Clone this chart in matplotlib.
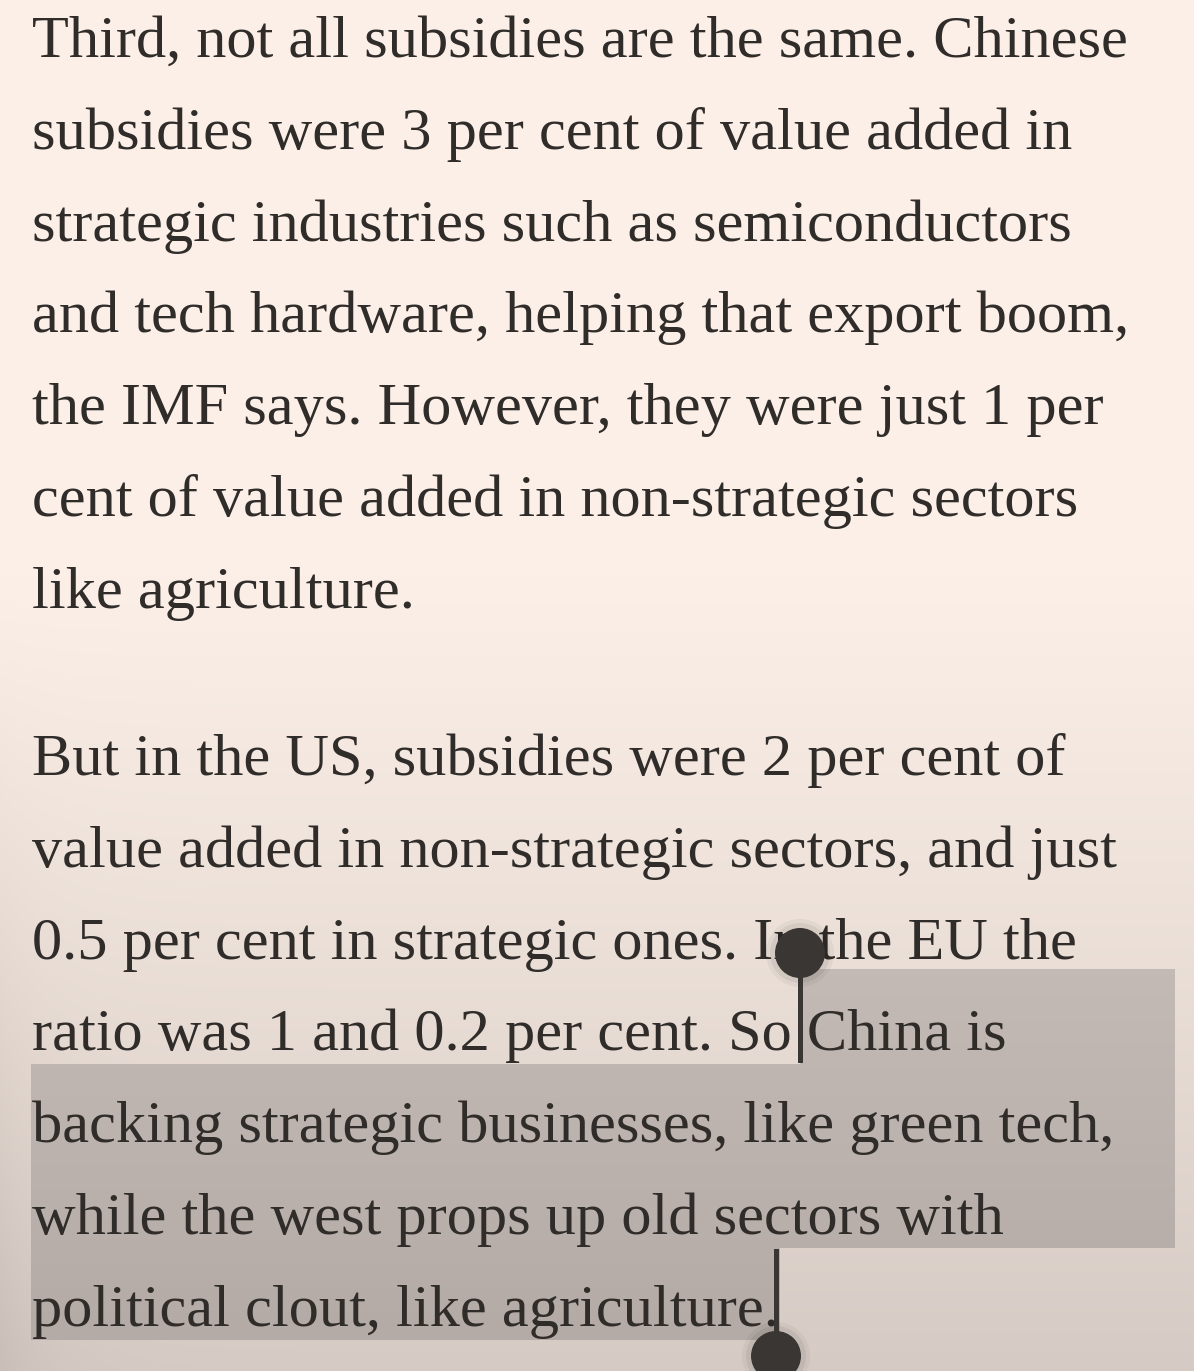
import numpy as np
import matplotlib.pyplot as plt
from matplotlib.patches import Circle, Polygon, Rectangle

W, H = 1194, 1371

para1 = [
    "Third, not all subsidies are the same. Chinese",
    "subsidies were 3 per cent of value added in",
    "strategic industries such as semiconductors",
    "and tech hardware, helping that export boom,",
    "the IMF says. However, they were just 1 per",
    "cent of value added in non-strategic sectors",
    "like agriculture.",
]
para2 = [
    "But in the US, subsidies were 2 per cent of",
    "value added in non-strategic sectors, and just",
    "0.5 per cent in strategic ones. In the EU the",
    "ratio was 1 and 0.2 per cent. So China is",
    "backing strategic businesses, like green tech,",
    "while the west props up old sectors with",
    "political clout, like agriculture.",
]

ink = "#302c2a"
handle = "#3a3634"
serif = ["Liberation Serif", "DejaVu Serif"]

fig = plt.figure(figsize=(W / 100, H / 100), dpi=100)
ax = fig.add_axes([0, 0, 1, 1])

# page background: peach at top, greyer towards the bottom
yy = np.linspace(0, 1, H)[:, None, None]
xx = np.linspace(0, 1, W)[None, :, None]
top = np.array([251, 239, 231]) / 255
bot = np.array([214, 203, 196]) / 255
t = np.clip((yy - 0.42) / 0.58, 0, 1) ** 1.1
bg = top * (1 - t) + bot * t
bg = bg - 0.05 * t * np.exp(-xx / 0.04)
bg = np.clip(np.broadcast_to(bg, (H, W, 3)), 0, 1)
ax.imshow(bg, extent=(0, W, H, 0), aspect="auto", zorder=0)

# selection highlight
sel = Polygon([(800, 969), (1175, 969), (1175, 1248), (780, 1248), (780, 1340),
               (31, 1340), (31, 1064), (800, 1064)], closed=True,
              facecolor="none", edgecolor="none")
ax.add_patch(sel)
s = np.linspace(0, 1, 64)[:, None, None]
hl = np.array([195, 186, 181]) / 255 * (1 - s) + np.array([180, 171, 166]) / 255 * s
hl_img = ax.imshow(np.broadcast_to(hl, (64, 4, 3)), extent=(0, W, 1340, 969),
                   aspect="auto", zorder=1)
hl_img.set_clip_path(sel)

ax.set_xlim(0, W)
ax.set_ylim(H, 0)
ax.axis("off")

# fit font size so the widest line spans like the reference
fs = 43
probe = ax.text(32, 100, para1[3], fontsize=fs, family=serif)
fig.canvas.draw()
fs *= 1099 / probe.get_window_extent().width
probe.remove()

step = 91.8
for i, line in enumerate(para1):
    ax.text(32, 57 + i * step, line, fontsize=fs, family=serif, color=ink,
            va="baseline", ha="left", zorder=2)
for i, line in enumerate(para2):
    ax.text(32, 775 + i * step, line, fontsize=fs, family=serif, color=ink,
            va="baseline", ha="left", zorder=2)

# selection handles
for cx, cy in [(800, 953), (776, 1356)]:
    for r, a in [(34, 0.04), (30, 0.06)]:
        ax.add_patch(Circle((cx, cy), r, color="black", alpha=a, lw=0, zorder=3))
    ax.add_patch(Circle((cx, cy), 25, color=handle, lw=0, zorder=4))
ax.add_patch(Rectangle((797.5, 953), 5, 110, color=handle, lw=0, zorder=4))
ax.add_patch(Rectangle((773.5, 1249), 5, 107, color=handle, lw=0, zorder=4))

fig.savefig("out.png", dpi=100)
